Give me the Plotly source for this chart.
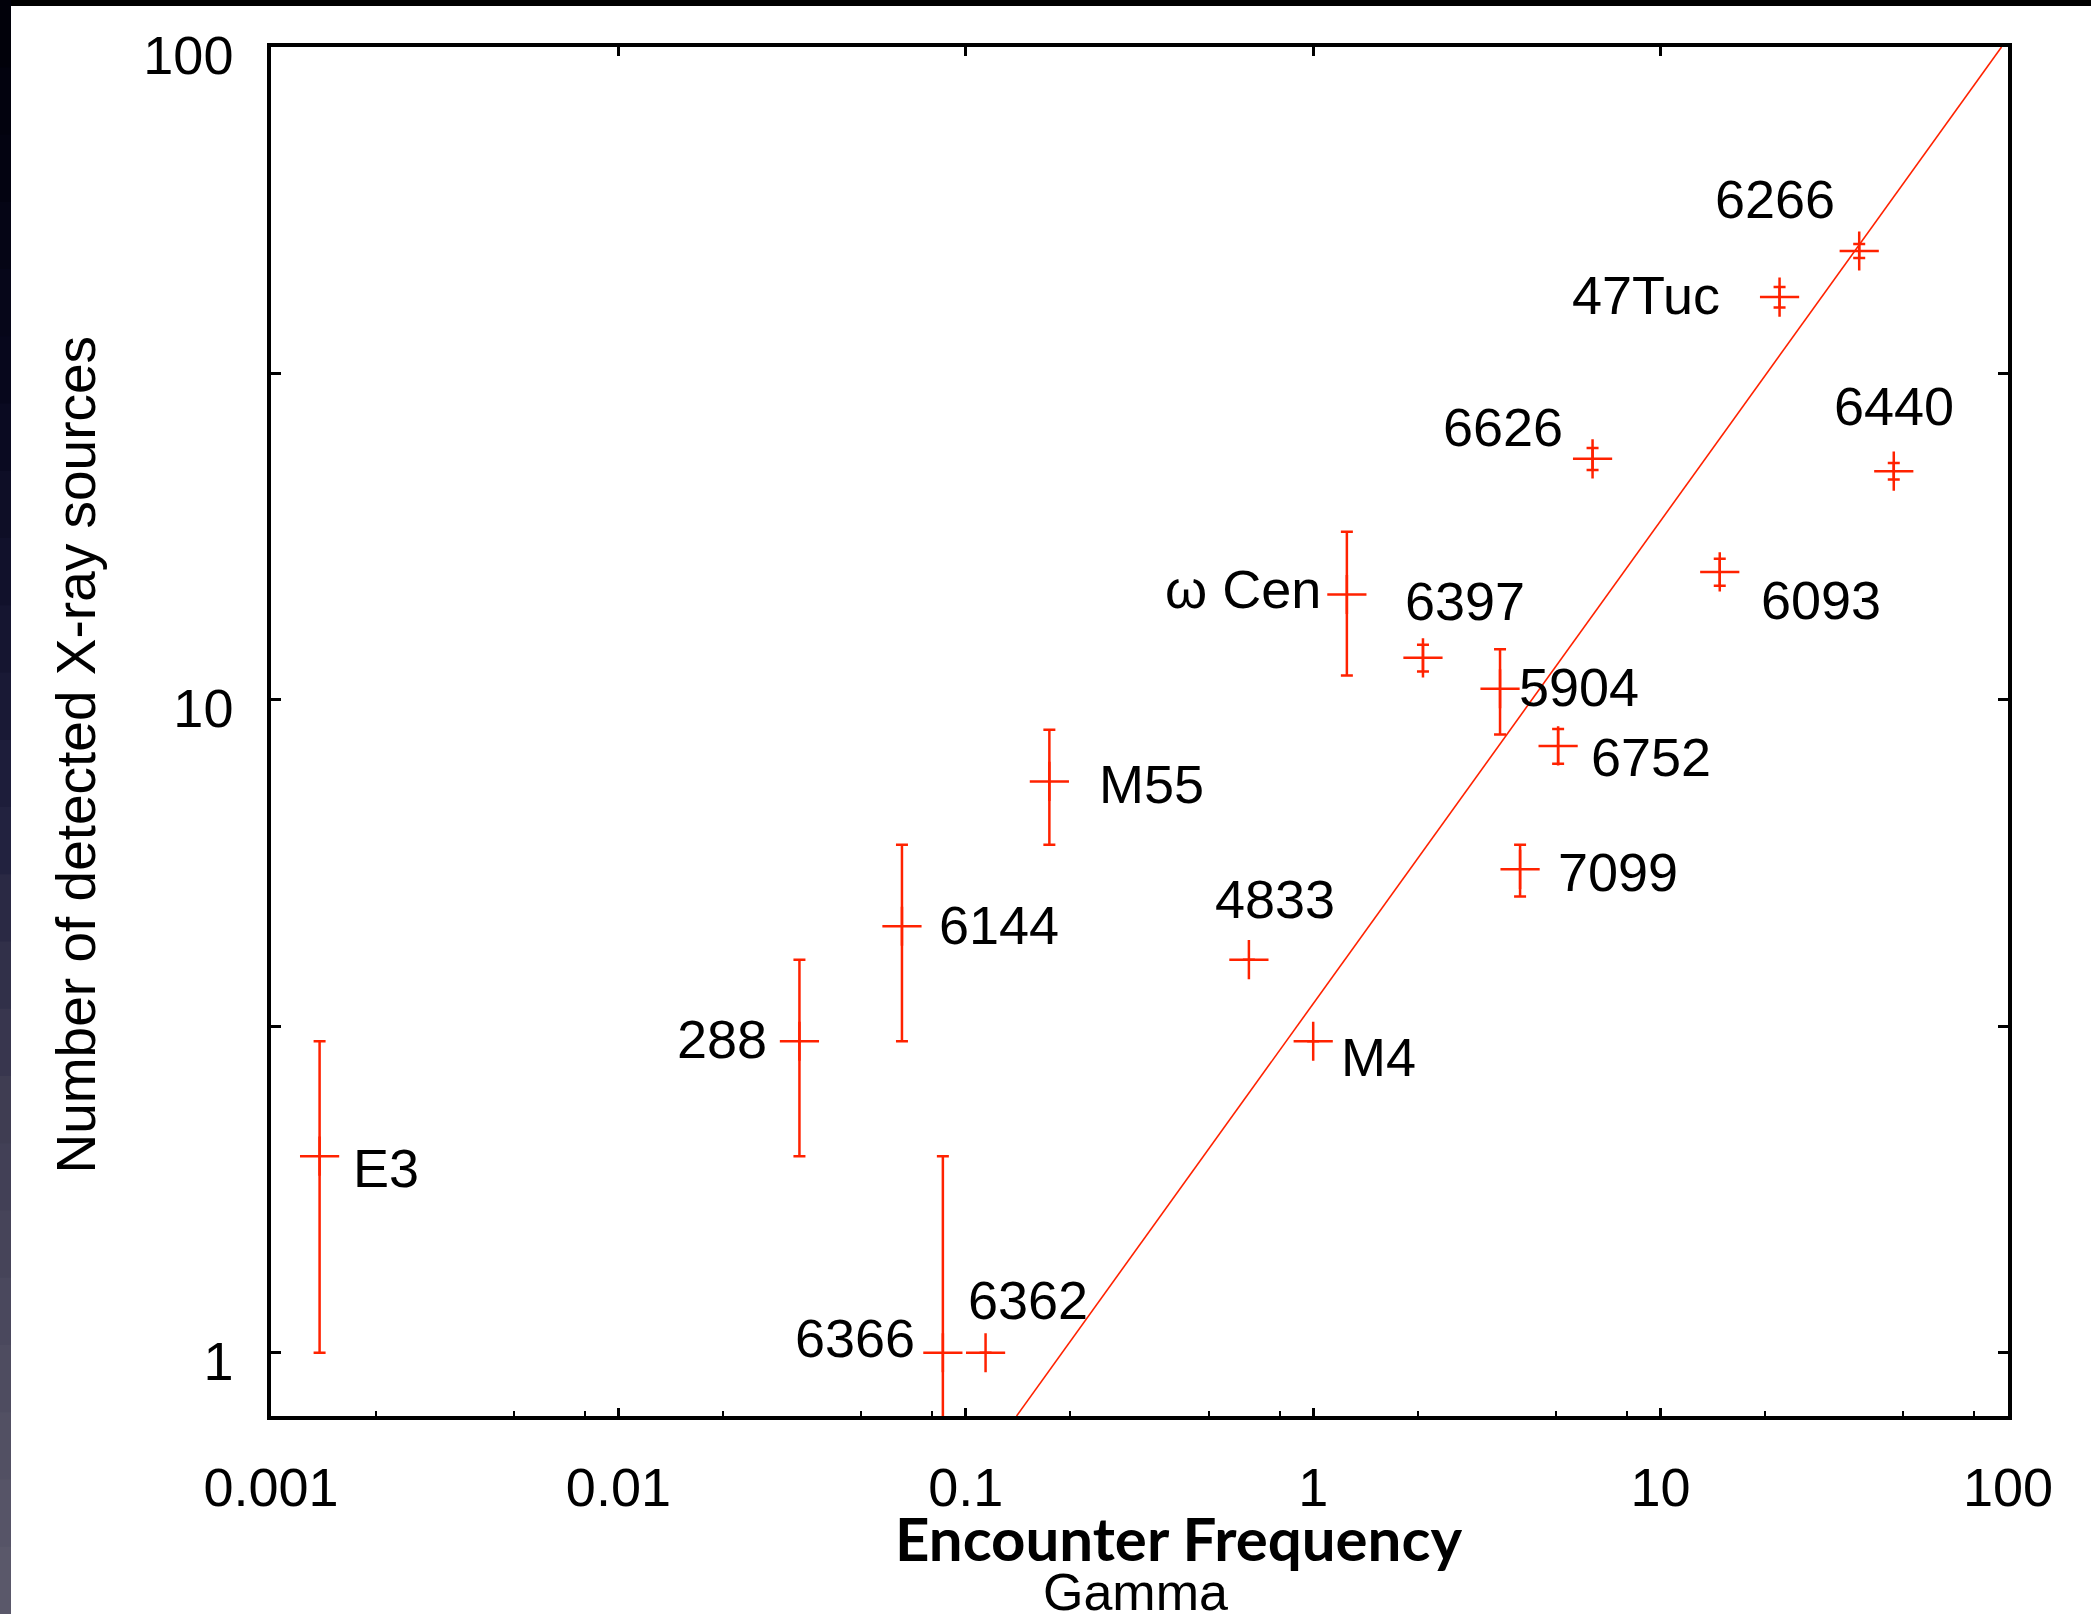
import numpy as np
import plotly.graph_objects as go

# ---------------- data ----------------
clusters = ["E3", "288", "6144", "M55", "6366", "6362", "4833", "M4", "ω Cen",
            "6397", "5904", "6752", "7099", "6626", "6093", "47Tuc", "6266", "6440"]
gamma = [0.00138, 0.0332, 0.0655, 0.174, 0.0859, 0.114, 0.653, 1.0, 1.25,
         2.07, 3.45, 5.07, 3.94, 6.37, 14.8, 22.0, 37.3, 46.9]
n_sources = [2, 3, 4.5, 7.5, 1, 1, 4, 3, 14.5,
             11.6, 10.4, 8.5, 5.5, 23.4, 15.7, 41.4, 48.7, 22.4]
n_err = [1, 1, 1.5, 1.5, 1, 0, 0, 0, 3.6,
         0.55, 1.55, 0.52, 0.5, 0.9, 0.75, 1.5, 1.2, 0.65]

# fitted power-law line, end points
fit_gamma = [0.140, 95.8]
fit_n = [0.80, 100.0]

x_tick_vals = [0.001, 0.01, 0.1, 1, 10, 100]
x_tick_text = ["0.001", "0.01", "0.1", "1", "10", "100"]
y_tick_vals = [1, 3.1623, 10, 31.623, 100]
y_tick_text = ["1", "", "10", "", "100"]

# label offsets in pixels (dx, dy up) -- styling
label_offsets = {
    "E3": (66, -12), "288": (-77, 2), "6144": (97, 1), "M55": (102, -3),
    "6366": (-88, 15), "6362": (42, 53), "4833": (26, 61), "M4": (65, -16),
    "ω Cen": (-104, 6), "6397": (42, 57), "5904": (79, 2), "6752": (93, -11),
    "7099": (98, -3), "6626": (-90, 32), "6093": (101, -28), "47Tuc": (-134, 2),
    "6266": (-84, 52), "6440": (0, 65),
}

RED = "#ff2200"
FONT = "Liberation Sans, Arial, sans-serif"

W, H = 2091, 1614
L, R, T, B = 271, 83, 47, 198
PW, PH = W - L - R, H - T - B

def px_x(p):
    return (p - L) / PW

def px_y(p):
    return (H - B - p) / PH

fig = go.Figure()

# fit line
fig.add_trace(go.Scatter(
    x=fit_gamma, y=fit_n, mode="lines",
    line=dict(color=RED, width=1.6),
    hoverinfo="skip", showlegend=False))

# data points with error bars
fig.add_trace(go.Scatter(
    x=gamma, y=n_sources, mode="markers",
    marker=dict(symbol="cross-thin", size=28,
                line=dict(color=RED, width=2.5), color=RED),
    error_y=dict(type="data", array=n_err, symmetric=True,
                 color=RED, thickness=2.5, width=6),
    text=clusters, hoverinfo="text", showlegend=False))

# dummy trace to anchor the top tick axis
fig.add_trace(go.Scatter(x=[1], y=[1], xaxis="x2", mode="markers",
                         marker=dict(opacity=0), hoverinfo="skip",
                         showlegend=False))

annotations = []
for name, gx, ny in zip(clusters, gamma, n_sources):
    dx, dy = label_offsets[name]
    annotations.append(dict(
        x=np.log10(gx), y=np.log10(ny), xref="x", yref="y",
        text=name, showarrow=False, xshift=dx, yshift=dy,
        xanchor="center", yanchor="middle",
        font=dict(family=FONT, size=54, color="black")))

# axis titles
annotations.append(dict(
    text="Number of detected X-ray sources", textangle=-90,
    xref="paper", yref="paper", x=px_x(75.5), y=px_y(755),
    xanchor="center", yanchor="middle", showarrow=False,
    font=dict(family=FONT, size=55, color="black")))
annotations.append(dict(
    text="Encounter Frequency",
    xref="paper", yref="paper", x=px_x(1178), y=px_y(1538),
    xanchor="center", yanchor="middle", showarrow=False,
    font=dict(family="Lato, Open Sans, sans-serif", size=60, color="black",
              weight="bold")))
annotations.append(dict(
    text="Gamma",
    xref="paper", yref="paper", x=px_x(1135), y=px_y(1592),
    xanchor="center", yanchor="middle", showarrow=False,
    font=dict(family=FONT, size=52, color="black")))

# slide decoration: black top strip and dark left strip
shapes = [dict(type="rect", xref="paper", yref="paper",
               x0=px_x(0), x1=px_x(W), y0=px_y(0), y1=px_y(6),
               fillcolor="black", line=dict(width=0), layer="above")]
stops = [(0, (0, 0, 8)), (400, (8, 8, 30)), (800, (30, 30, 60)),
         (1100, (62, 60, 82)), (1614, (92, 90, 108))]
nb = 24
for i in range(nb):
    y0 = H * i / nb
    y1 = H * (i + 1) / nb
    ym = (y0 + y1) / 2
    for (a, ca), (b, cb) in zip(stops[:-1], stops[1:]):
        if a <= ym <= b:
            t = (ym - a) / (b - a)
            c = tuple(int(round(ca[k] + t * (cb[k] - ca[k]))) for k in range(3))
            break
    shapes.append(dict(type="rect", xref="paper", yref="paper",
                       x0=px_x(0), x1=px_x(11), y0=px_y(y0), y1=px_y(y1 + 1),
                       fillcolor="rgb(%d,%d,%d)" % c, line=dict(width=0),
                       layer="above"))

minor_x = [m * 10.0 ** e for e in range(-3, 2) for m in (2, 5, 8)]

fig.update_layout(
    width=W, height=H,
    margin=dict(l=L, r=R, t=T, b=B, pad=0),
    paper_bgcolor="white", plot_bgcolor="white",
    showlegend=False,
    annotations=annotations,
    shapes=shapes,
    xaxis=dict(
        type="log", range=[-3, 2],
        showline=True, linecolor="black", linewidth=3.5, mirror=True,
        showgrid=False, zeroline=False,
        ticks="inside", tickvals=x_tick_vals, ticktext=x_tick_text,
        ticklen=8, tickwidth=2.5, tickcolor="black",
        tickfont=dict(family=FONT, size=54, color="black"),
        ticklabelstandoff=21,
        minor=dict(tickvals=minor_x, ticks="inside", ticklen=5,
                   tickwidth=2, tickcolor="black", showgrid=False),
    ),
    xaxis2=dict(
        type="log", range=[-3, 2], overlaying="x", side="top", anchor="y",
        showline=False, showgrid=False, zeroline=False,
        ticks="inside", tickvals=x_tick_vals, ticklen=9, tickwidth=2.5,
        tickcolor="black", showticklabels=False,
    ),
    yaxis=dict(
        type="log", range=[np.log10(0.8), 2],
        showline=True, linecolor="black", linewidth=3.5, mirror="ticks",
        showgrid=False, zeroline=False,
        ticks="inside", tickvals=y_tick_vals, ticktext=y_tick_text,
        ticklen=10, tickwidth=2.5, tickcolor="black",
        tickfont=dict(family=FONT, size=54, color="black"),
        ticklabelstandoff=23, ticklabelshift=8,
    ),
)

fig.write_html("out.html")
